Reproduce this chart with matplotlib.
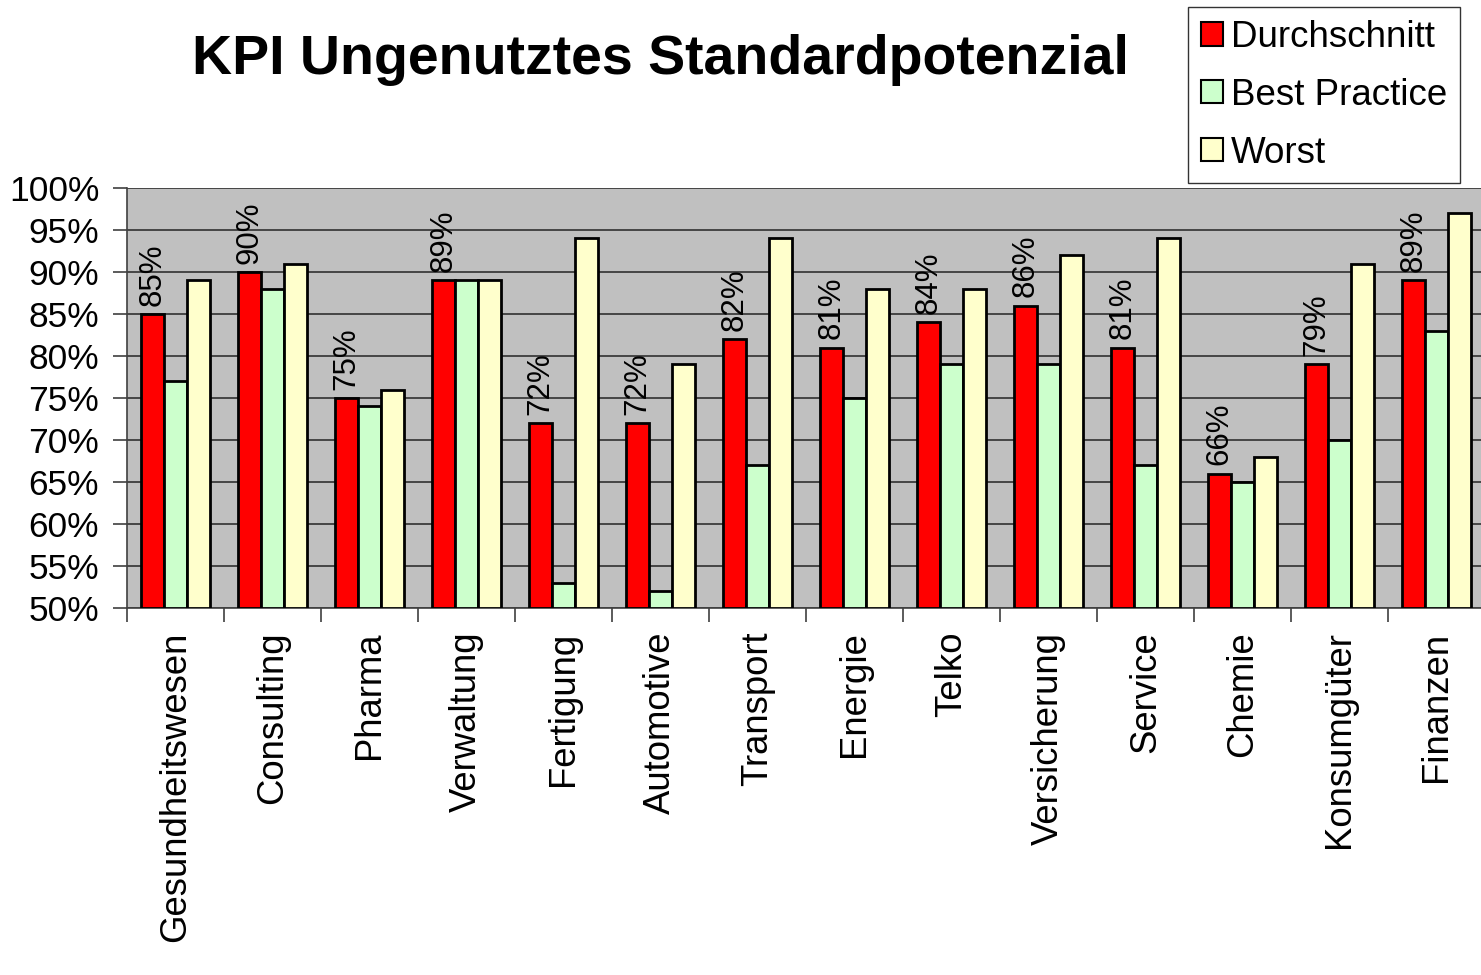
import matplotlib
matplotlib.use("Agg")
import matplotlib.pyplot as plt
import numpy as np
from matplotlib.patches import Patch

plt.rcParams['font.family'] = ['Liberation Sans', 'DejaVu Sans']

categories = ["Gesundheitswesen", "Consulting", "Pharma", "Verwaltung", "Fertigung",
              "Automotive", "Transport", "Energie", "Telko", "Versicherung",
              "Service", "Chemie", "Konsumgüter", "Finanzen"]
durchschnitt = [85, 90, 75, 89, 72, 72, 82, 81, 84, 86, 81, 66, 79, 89]
best_practice = [77, 88, 74, 89, 53, 52, 67, 75, 79, 79, 67, 65, 70, 83]
worst = [89, 91, 76, 89, 94, 79, 94, 88, 88, 92, 94, 68, 91, 97]
series_names = ["Durchschnitt", "Best Practice", "Worst"]
colors = ["#FF0000", "#CCFFCC", "#FFFFCC"]
yticks = list(range(50, 101, 5))

fig = plt.figure(figsize=(14.81, 9.75), dpi=100)
ax = fig.add_axes([127/1481, (975-608)/975, (1485-127)/1481, (608-188)/975])
ax.set_facecolor("#C0C0C0")

x = np.arange(len(categories))
w = 0.237
for i, (vals, c) in enumerate(zip([durchschnitt, best_practice, worst], colors)):
    ax.bar(x + (i - 1) * w, [v - 50 for v in vals], bottom=50, width=w, color=c,
           edgecolor="black", linewidth=2.0, zorder=3)

for xi, v in zip(x, durchschnitt):
    ax.annotate(f"{v}%", (xi - w, v), xytext=(0, 6), textcoords="offset points",
                rotation=90, ha="center", va="bottom", fontsize=22.5, zorder=4)

ax.set_xlim(-0.5, len(categories) - 0.5)
ax.set_ylim(50, 100)
ax.set_yticks(yticks)
ax.set_yticklabels([f"{t}%" for t in yticks], fontsize=25.5)
ax.yaxis.grid(True, color="#303030", linewidth=1.2, zorder=1)
ax.tick_params(axis="y", length=10, width=1.2, pad=10, color="#404040")

ax.set_xticks(x)
ax.set_xticklabels(categories, rotation=90, fontsize=26.3)
ax.set_xticks(np.arange(-0.5, len(categories), 1), minor=True)
ax.tick_params(axis="x", which="major", length=0, pad=17)
ax.tick_params(axis="x", which="minor", length=10, width=1.2, color="#404040")

for s in ["top", "right"]:
    ax.spines[s].set_visible(False)
for s in ["left", "bottom"]:
    ax.spines[s].set_color("#404040")
    ax.spines[s].set_linewidth(1.2)

fig.text(660/1481, 1 - 60/975, "KPI Ungenutztes Standardpotenzial", ha="center", va="center",
         fontsize=40, fontweight="bold")

handles = [Patch(facecolor=c, edgecolor="black", linewidth=1.5) for c in colors]
leg = fig.legend(handles, series_names, loc="upper left",
                 bbox_to_anchor=(1188/1481, 1 - 7/975), fontsize=26.5, frameon=True,
                 fancybox=False, edgecolor="black", handlelength=0.6, handleheight=0.6,
                 handletextpad=0.22, labelspacing=0.62, borderpad=0.35, borderaxespad=0)
leg.get_frame().set_linewidth(1.0)

fig.savefig("out.png", dpi=100)
